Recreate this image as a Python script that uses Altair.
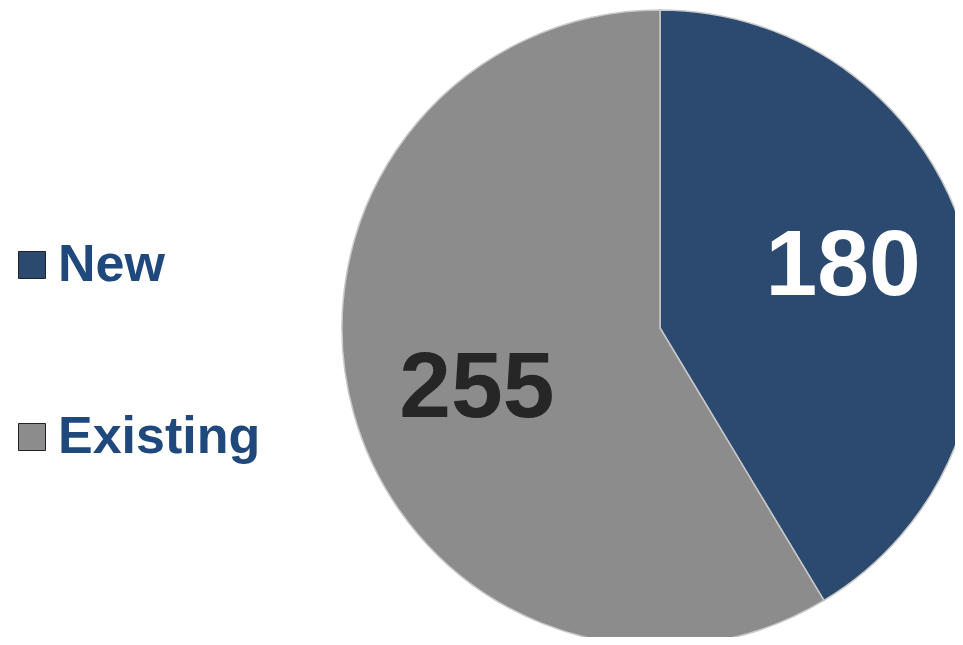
import altair as alt
import pandas as pd

categories = ["New", "Existing"]
values = [180, 255]
order = [1, 2]
label_colors = ["#FFFFFF", "#262626"]

df = pd.DataFrame({"category": categories, "value": values, "order": order,
                   "label": [str(v) for v in values], "lcolor": label_colors})

color_scale = alt.Scale(domain=categories, range=["#2C4A6F", "#8C8C8C"])

base = alt.Chart(df).encode(
    theta=alt.Theta("value:Q", stack=True),
    order=alt.Order("order:Q"),
)

pie = base.mark_arc(radius=318, stroke="#C8C8C8", strokeWidth=1.5).encode(
    color=alt.Color("category:N", scale=color_scale, sort=categories,
                    legend=alt.Legend(title=None, orient="none", legendX=-2, legendY=231,
                                      symbolType="square", symbolSize=729,
                                      symbolStrokeColor="#222222", symbolStrokeWidth=1,
                                      labelFontSize=52, labelFont="Liberation Sans",
                                      labelFontWeight="bold", labelColor="#1F497D",
                                      labelOffset=0, rowPadding=120, labelLimit=400)),
    x=alt.value(652), y=alt.value(320),
)

text = base.mark_text(radius=193, thetaOffset=-0.05, font="Liberation Sans", fontSize=93,
                      fontWeight="bold", baseline="middle", align="center").encode(
    text="label:N",
    color=alt.Color("lcolor:N", scale=None),
    x=alt.value(652), y=alt.value(320),
)

chart = alt.layer(pie, text).properties(
    width=947, height=629, autosize=alt.AutoSizeParams(type="none"), padding=0
).configure_view(stroke=None)

chart.save("out.html", embed_options={"renderer": "svg", "actions": False})
